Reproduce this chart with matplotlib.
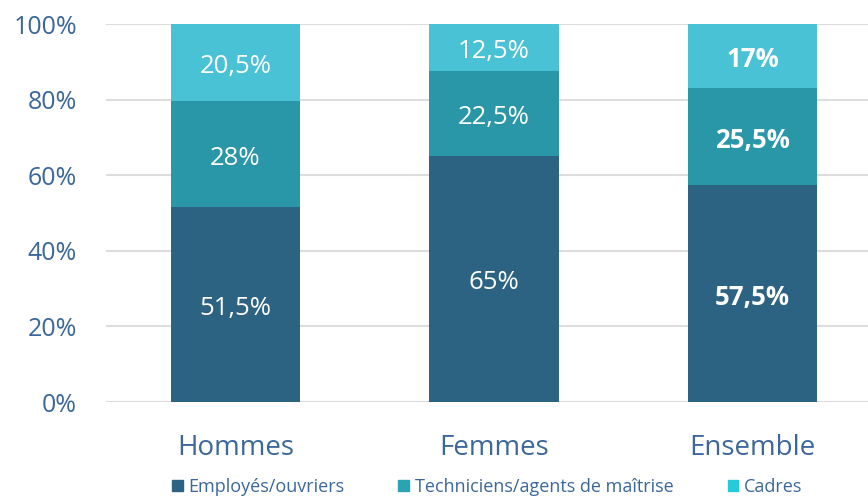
import matplotlib
matplotlib.use("Agg")
import matplotlib.pyplot as plt
from matplotlib.patches import Patch
import numpy as np

categories = ["Hommes", "Femmes", "Ensemble"]
series_names = ["Employés/ouvriers", "Techniciens/agents de maîtrise", "Cadres"]
employes = [51.5, 65, 57.5]
techniciens = [28, 22.5, 25.5]
cadres = [20.5, 12.5, 17]
labels_employes = ["51,5%", "65%", "57,5%"]
labels_techniciens = ["28%", "22,5%", "25,5%"]
labels_cadres = ["20,5%", "12,5%", "17%"]
bold = [False, False, True]

colors = ["#2C6282", "#2997A8", "#49C2D5"]
legend_colors = ["#2C6282", "#2AA3B3", "#26CAD8"]
text_blue = "#3B679A"

plt.rcParams['font.family'] = ['Open Sans', 'DejaVu Sans']

fig = plt.figure(figsize=(8.68, 4.98), dpi=100)
ax = fig.add_axes([106 / 868, 1 - 402 / 498, 776 / 868, 378 / 498])

x = np.arange(len(categories))
series = [employes, techniciens, cadres]
labels = [labels_employes, labels_techniciens, labels_cadres]
bottom = np.zeros(len(categories))
for vals, labs, col in zip(series, labels, colors):
    ax.bar(x, vals, 0.5, bottom=bottom, color=col, zorder=3)
    for i in range(len(categories)):
        ax.text(x[i], bottom[i] + vals[i] / 2 - 1.0, labs[i], ha="center", va="center",
                color="white", fontsize=18.5,
                fontweight="bold" if bold[i] else "normal", zorder=4)
    bottom += np.array(vals)

ax.set_xlim(-0.5, 2.5)
ax.set_ylim(0, 100)
ax.set_yticks([0, 20, 40, 60, 80, 100])
ax.set_yticklabels(["0%", "20%", "40%", "60%", "80%", "100%"])
ax.set_xticks(x)
ax.set_xticklabels(categories)
ax.tick_params(axis="y", length=0, pad=21, labelsize=18, labelcolor=text_blue)
ax.tick_params(axis="x", length=0, pad=23, labelsize=20, labelcolor=text_blue)
ax.grid(axis="y", color="#DDDDDD", linewidth=1.5, zorder=0)
for s in ax.spines.values():
    s.set_visible(False)

handles = [Patch(color=c) for c in legend_colors]
fig.legend(handles, series_names, loc="center", bbox_to_anchor=(487 / 868, 1 - 487 / 498),
           ncol=3, frameon=False, handlelength=0.6, handleheight=0.6,
           handletextpad=0.3, columnspacing=3.0,
           prop={"size": 13}, labelcolor=text_blue)

fig.savefig("out.png", dpi=100)
